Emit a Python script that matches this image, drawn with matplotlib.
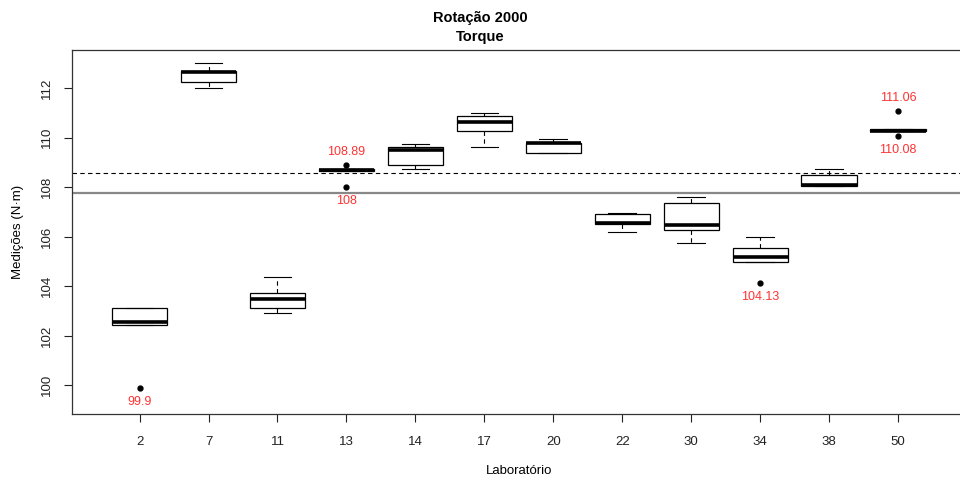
import matplotlib
matplotlib.use("Agg")
import matplotlib.pyplot as plt
import numpy as np

plt.rcParams['font.family'] = ['Liberation Sans', 'DejaVu Sans']

# laboratories and box statistics (N·m)
labs = ['2', '7', '11', '13', '14', '17', '20', '22', '30', '34', '38', '50']
whislo = [102.42, 112.01, 102.90, 108.65, 108.72, 109.63, 109.36, 106.19, 105.75, 104.97, 108.03, 110.26]
q1     = [102.42, 112.25, 103.10, 108.65, 108.88, 110.25, 109.36, 106.52, 106.26, 104.97, 108.03, 110.26]
med    = [102.55, 112.66, 103.46, 108.68, 109.49, 110.64, 109.77, 106.56, 106.46, 105.17, 108.07, 110.28]
q3     = [103.12, 112.69, 103.74, 108.72, 109.63, 110.88, 109.79, 106.91, 107.37, 105.52, 108.47, 110.34]
whishi = [103.12, 113.00, 104.35, 108.72, 109.76, 111.00, 109.95, 106.94, 107.58, 105.97, 108.72, 110.34]
outliers = {'2': [99.9], '13': [108.89, 108.0], '34': [104.13], '50': [111.06, 110.08]}

ref_dashed = 108.57
ref_solid = 107.76

stats = []
for i, lab in enumerate(labs):
    stats.append(dict(label=lab, whislo=whislo[i], q1=q1[i], med=med[i], q3=q3[i],
                      whishi=whishi[i], fliers=outliers.get(lab, [])))

fig = plt.figure(figsize=(9.6, 4.84), dpi=100)
ax = fig.add_axes([0.075, 0.1446, 0.9308, 0.7521])

ax.axhline(ref_solid, color='#888888', lw=1.6, zorder=1)
ax.axhline(ref_dashed, color='black', lw=0.8, ls=(0, (4, 3)), zorder=1)

pos = np.arange(1, len(labs) + 1)
ax.bxp(stats, positions=pos, widths=0.8, patch_artist=True,
       boxprops=dict(facecolor='white', edgecolor='black', linewidth=0.9),
       medianprops=dict(color='black', linewidth=2.6, solid_capstyle='butt'),
       whiskerprops=dict(color='black', linewidth=0.8, ls=(0, (4, 3))),
       capprops=dict(color='black', linewidth=0.8),
       capwidths=0.4,
       flierprops=dict(marker='o', markersize=3.5, markerfacecolor='black',
                       markeredgecolor='black'),
       zorder=2)

# red labels for outliers
for i, lab in enumerate(labs):
    for v in outliers.get(lab, []):
        if v > med[i]:
            ax.annotate(f'{v:g}', (pos[i], v), xytext=(0, 5), textcoords='offset points',
                        ha='center', va='bottom', color='#ff3333', fontsize=9)
        else:
            ax.annotate(f'{v:g}', (pos[i], v), xytext=(0, -6), textcoords='offset points',
                        ha='center', va='top', color='#ff3333', fontsize=9)

ax.set_xlim(0.02, 12.98)
ax.set_ylim(98.83, 113.54)
ax.set_yticks([100, 102, 104, 106, 108, 110, 112])
ax.set_xticks(pos)
ax.set_xticklabels(labs)
for lbl in ax.get_yticklabels():
    lbl.set_rotation(90)
    lbl.set_va('center')
ax.tick_params(direction='out', length=6, width=0.8, colors='#222222', labelsize=9.5, pad=10)
ax.tick_params(axis='y', pad=8)
for s in ax.spines.values():
    s.set_color('#333333')
    s.set_linewidth(0.9)

ax.set_xlabel('Laboratório', fontsize=9.5, labelpad=12)
ax.set_ylabel('Medições (N·m)', fontsize=9.5, labelpad=12)
fig.text(0.5, 0.963, 'Rotação 2000', ha='center', va='center', fontsize=10.5, fontweight='bold')
fig.text(0.5, 0.924, 'Torque', ha='center', va='center', fontsize=10.5, fontweight='bold')

fig.savefig('out.png', dpi=100)
